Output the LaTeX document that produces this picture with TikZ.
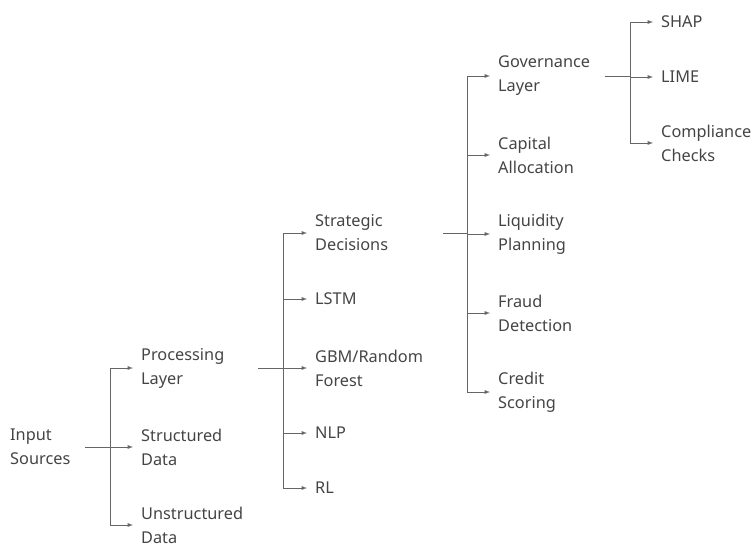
\documentclass[tikz,border=0pt]{standalone}
\usepackage{fontspec}
\setmainfont{Noto Sans}
\usepackage{xcolor}
\definecolor{inkgray}{HTML}{444444}
\definecolor{wiregray}{HTML}{666666}

\begin{document}
\begin{tikzpicture}[x=1pt,y=-1pt,>=latex,
	leaf/.style={anchor=west,inner sep=0pt,align=left,text=inkgray,font=\fontsize{16.3}{24}\selectfont},
	wire/.style={draw=wiregray,line width=0.9pt},
	arr/.style={wire,->,shorten >=8pt}]
	\useasboundingbox (0,0) rectangle (753,544);

	% level 0 and 1
	\node[leaf,text width=75pt] (input) at (10,447) {Input\\Sources};
	\node[leaf,text width=117pt] (proc) at (141,368) {Processing\\Layer};
	\node[leaf] (struct) at (141,447) {Structured\\Data};
	\node[leaf] (unstruct) at (141,525) {Unstructured\\Data};
	\coordinate (j1) at (110,447);

	% level 2
	\node[leaf,text width=128pt] (strat) at (315,233) {Strategic\\Decisions};
	\node[leaf] (lstm) at (315,299) {LSTM};
	\node[leaf] (gbm) at (315,368) {GBM/Random\\Forest};
	\node[leaf] (nlp) at (315,433) {NLP};
	\node[leaf] (rl) at (315,488) {RL};
	\coordinate (j2) at (283,368);

	% level 3
	\node[leaf,text width=107pt] (gov) at (498,76) {Governance\\Layer};
	\node[leaf] (cap) at (498,155) {Capital\\Allocation};
	\node[leaf] (liq) at (498,234) {Liquidity\\Planning};
	\node[leaf] (fraud) at (498,313) {Fraud\\Detection};
	\node[leaf] (credit) at (498,392) {Credit\\Scoring};
	\coordinate (j3) at (467,233);

	% level 4
	\node[leaf] (shap) at (661,22) {SHAP};
	\node[leaf] (lime) at (661,77) {LIME};
	\node[leaf] (compl) at (661,143) {Compliance\\Checks};
	\coordinate (j4) at (630,76);

	% connectors
	\draw[wire] (input.east) -- (j1);
	\foreach \kid in {proc,struct,unstruct}
		\draw[arr] (j1) |- (\kid.west);
	\draw[wire] (proc.east) -- (j2);
	\foreach \kid in {strat,lstm,gbm,nlp,rl}
		\draw[arr] (j2) |- (\kid.west);
	\draw[wire] (strat.east) -- (j3);
	\foreach \kid in {gov,cap,liq,fraud,credit}
		\draw[arr] (j3) |- (\kid.west);
	\draw[wire] (gov.east) -- (j4);
	\foreach \kid in {shap,lime,compl}
		\draw[arr] (j4) |- (\kid.west);
\end{tikzpicture}
\end{document}
